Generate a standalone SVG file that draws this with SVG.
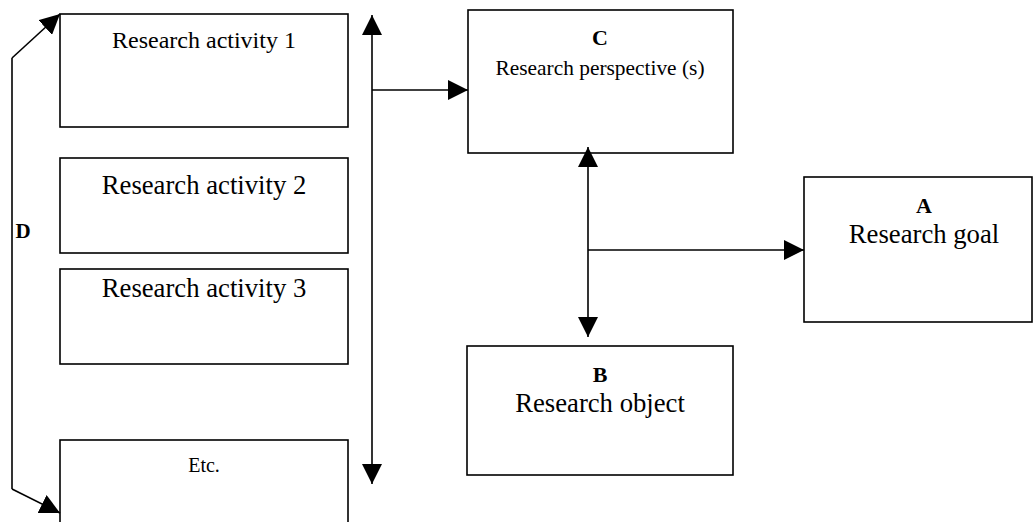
<svg xmlns="http://www.w3.org/2000/svg" width="1033" height="522" viewBox="0 0 1033 522">
<style>
.box{fill:#fff;stroke:#000;stroke-width:1.6}
.ln{fill:none;stroke:#000;stroke-width:1.6}
text{font-family:"Liberation Serif","Times New Roman",serif;fill:#000;text-anchor:middle}
.b{font-weight:bold}
</style>
<defs>
<marker id="ah" viewBox="0 0 20 20" refX="20" refY="10" markerWidth="20" markerHeight="20" markerUnits="userSpaceOnUse" orient="auto-start-reverse">
<path d="M0,0 L20,10 L0,20 z" fill="#000"/>
</marker>
</defs>
<rect width="1033" height="522" fill="#fff"/>
<g id="act1"><rect class="box" x="60" y="14" width="288" height="113"/><text x="204" y="48" font-size="24">Research activity 1</text></g>
<g id="act2"><rect class="box" x="60" y="158" width="288" height="95"/><text x="204" y="194" font-size="26.7">Research activity 2</text></g>
<g id="act3"><rect class="box" x="60" y="269" width="288" height="95"/><text x="204" y="297" font-size="26.7">Research activity 3</text></g>
<g id="etc"><rect class="box" x="60" y="440" width="288" height="100"/><text x="204" y="472" font-size="20">Etc.</text></g>
<g id="C"><rect class="box" x="468" y="10" width="265" height="143"/><text class="b" x="600" y="45" font-size="22">C</text><text x="600" y="75" font-size="21.4">Research perspective (s)</text></g>
<g id="A"><rect class="box" x="804" y="177" width="228" height="145"/><text class="b" x="924" y="213" font-size="22">A</text><text x="924" y="243" font-size="26.7">Research goal</text></g>
<g id="B"><rect class="box" x="467" y="346" width="266" height="129"/><text class="b" x="600" y="382" font-size="22">B</text><text x="600" y="412" font-size="26.7">Research object</text></g>
<g id="connectors">
<line class="ln" x1="372" y1="484" x2="372" y2="15" marker-start="url(#ah)" marker-end="url(#ah)"/>
<line class="ln" x1="372" y1="90" x2="468" y2="90" marker-end="url(#ah)"/>
<line class="ln" x1="588" y1="337" x2="588" y2="147" marker-start="url(#ah)" marker-end="url(#ah)"/>
<line class="ln" x1="588" y1="250" x2="804" y2="250" marker-end="url(#ah)"/>
<line class="ln" x1="12" y1="58" x2="60" y2="14" marker-end="url(#ah)"/>
<line class="ln" x1="12" y1="58" x2="12" y2="489"/>
<line class="ln" x1="12" y1="489" x2="60" y2="513" marker-end="url(#ah)"/>
</g>
<g id="D"><text class="b" x="23" y="238" font-size="21">D</text></g>
</svg>
